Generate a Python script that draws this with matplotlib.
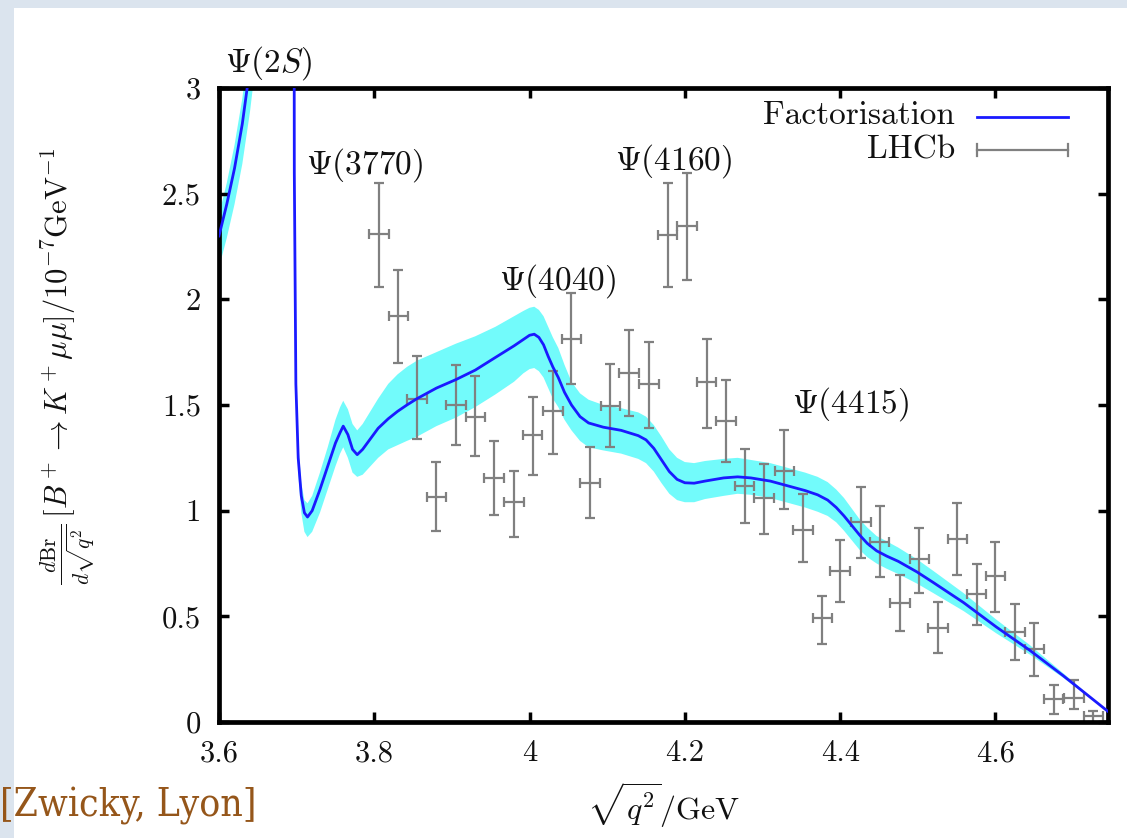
import matplotlib
matplotlib.use("Agg")
import matplotlib.pyplot as plt
from matplotlib.patches import Rectangle
from matplotlib.lines import Line2D

plt.rcParams['mathtext.fontset'] = 'cm'
plt.rcParams['font.family'] = ['cmr10', 'DejaVu Serif']
plt.rcParams['axes.formatter.use_mathtext'] = True

# ---------------- data ----------------
# LHCb data points (sqrt(q^2) bin centres, value, lower/upper error)
lhcb_x = [3.806, 3.831, 3.855, 3.880, 3.905, 3.930, 3.954, 3.980, 4.004, 4.030,
          4.054, 4.078, 4.104, 4.128, 4.154, 4.178, 4.203, 4.228, 4.253, 4.277,
          4.302, 4.328, 4.352, 4.377, 4.400, 4.427, 4.451, 4.477, 4.502, 4.526,
          4.551, 4.576, 4.600, 4.625, 4.650, 4.675, 4.701, 4.726]
lhcb_y = [2.31, 1.92, 1.53, 1.065, 1.50, 1.445, 1.155, 1.04, 1.36, 1.47,
          1.81, 1.13, 1.495, 1.65, 1.60, 2.305, 2.345, 1.61, 1.425, 1.115,
          1.06, 1.19, 0.91, 0.49, 0.715, 0.945, 0.85, 0.565, 0.77, 0.445,
          0.865, 0.605, 0.69, 0.425, 0.345, 0.11, 0.115, 0.03]
lhcb_top = [2.55, 2.14, 1.73, 1.23, 1.69, 1.635, 1.33, 1.19, 1.54, 1.66,
            2.03, 1.30, 1.695, 1.855, 1.80, 2.55, 2.60, 1.81, 1.62, 1.29,
            1.22, 1.38, 1.08, 0.595, 0.86, 1.11, 1.02, 0.695, 0.92, 0.57,
            1.035, 0.75, 0.85, 0.56, 0.47, 0.175, 0.20, 0.05]
lhcb_bot = [2.06, 1.70, 1.34, 0.905, 1.31, 1.26, 0.98, 0.875, 1.17, 1.27,
            1.60, 0.965, 1.30, 1.45, 1.39, 2.06, 2.09, 1.39, 1.23, 0.94,
            0.89, 1.01, 0.755, 0.37, 0.57, 0.775, 0.685, 0.43, 0.61, 0.325,
            0.695, 0.46, 0.52, 0.295, 0.22, 0.04, 0.06, 0.0]
lhcb_xerr = 0.0125

# Factorisation prediction: central curve and uncertainty band
theo_x = [3.600, 3.610, 3.620, 3.630, 3.640, 3.650, 3.665, 3.695, 3.697, 3.699,
          3.702, 3.706, 3.710, 3.714, 3.720, 3.730, 3.740, 3.750, 3.756, 3.760,
          3.766, 3.772, 3.778, 3.785, 3.795, 3.805, 3.818, 3.830, 3.842, 3.855,
          3.880, 3.905, 3.930, 3.956, 3.980, 3.992, 4.000, 4.006, 4.012, 4.018,
          4.024, 4.030, 4.037, 4.045, 4.054, 4.065, 4.076, 4.095, 4.118, 4.140,
          4.150, 4.160, 4.170, 4.180, 4.190, 4.200, 4.212, 4.226, 4.250, 4.268,
          4.285, 4.310, 4.335, 4.355, 4.371, 4.384, 4.395, 4.405, 4.415, 4.425,
          4.435, 4.447, 4.460, 4.475, 4.499, 4.520, 4.559, 4.601, 4.644, 4.687,
          4.745]
theo_c = [2.30, 2.45, 2.62, 2.83, 3.10, 3.45, 4.30, 9.00, 2.60, 1.60,
          1.25, 1.07, 0.99, 0.97, 1.00, 1.10, 1.21, 1.32, 1.37, 1.40,
          1.36, 1.29, 1.265, 1.29, 1.34, 1.39, 1.435, 1.47, 1.50, 1.53,
          1.58, 1.62, 1.665, 1.725, 1.78, 1.81, 1.83, 1.835, 1.82, 1.785,
          1.73, 1.68, 1.63, 1.56, 1.50, 1.445, 1.415, 1.395, 1.38, 1.355,
          1.335, 1.295, 1.24, 1.185, 1.148, 1.132, 1.13, 1.14, 1.155, 1.16,
          1.155, 1.14, 1.115, 1.095, 1.075, 1.05, 1.015, 0.975, 0.93, 0.885,
          0.845, 0.81, 0.785, 0.76, 0.71, 0.66, 0.565, 0.45, 0.34, 0.22,
          0.05]
theo_lo = [2.15, 2.29, 2.45, 2.64, 2.89, 3.20, 4.00, 9.00, 2.50, 1.52,
           1.18, 0.99, 0.90, 0.875, 0.90, 0.99, 1.10, 1.21, 1.27, 1.30,
           1.25, 1.18, 1.16, 1.17, 1.21, 1.25, 1.29, 1.31, 1.33, 1.35,
           1.40, 1.44, 1.49, 1.55, 1.61, 1.65, 1.67, 1.675, 1.66, 1.63,
           1.58, 1.53, 1.49, 1.43, 1.38, 1.33, 1.30, 1.285, 1.27, 1.245,
           1.225, 1.185, 1.13, 1.08, 1.05, 1.04, 1.04, 1.055, 1.07, 1.08,
           1.075, 1.06, 1.035, 1.015, 0.995, 0.975, 0.945, 0.905, 0.86, 0.815,
           0.78, 0.75, 0.725, 0.70, 0.655, 0.61, 0.525, 0.42, 0.32, 0.21,
           0.05]
theo_hi = [2.40, 2.55, 2.73, 2.95, 3.24, 3.60, 4.50, 9.00, 2.70, 1.68,
           1.32, 1.13, 1.05, 1.035, 1.07, 1.18, 1.30, 1.43, 1.49, 1.52,
           1.48, 1.41, 1.38, 1.41, 1.47, 1.53, 1.60, 1.645, 1.68, 1.71,
           1.75, 1.79, 1.825, 1.87, 1.92, 1.945, 1.96, 1.965, 1.95, 1.92,
           1.87, 1.82, 1.77, 1.69, 1.61, 1.555, 1.525, 1.50, 1.485, 1.465,
           1.445, 1.405, 1.35, 1.29, 1.25, 1.23, 1.225, 1.235, 1.245, 1.25,
           1.24, 1.225, 1.20, 1.18, 1.16, 1.135, 1.10, 1.06, 1.01, 0.96,
           0.92, 0.88, 0.855, 0.825, 0.77, 0.715, 0.61, 0.485, 0.365, 0.232,
           0.05]

# resonance labels
res_labels = [r'$\Psi(2S)$', r'$\Psi(3770)$', r'$\Psi(4040)$', r'$\Psi(4160)$', r'$\Psi(4415)$']
res_x = [3.664, 3.788, 4.036, 4.185, 4.414]
res_y = [3.12, 2.636, 2.087, 2.655, 1.505]

xticks = [3.6, 3.8, 4.0, 4.2, 4.4, 4.6]
xtick_labels = ['3.6', '3.8', '4', '4.2', '4.4', '4.6']
yticks = [0, 0.5, 1, 1.5, 2, 2.5, 3]
ytick_labels = ['0', '0.5', '1', '1.5', '2', '2.5', '3']

# ---------------- figure ----------------
W, H = 1127, 838
fig = plt.figure(figsize=(W / 100, H / 100), dpi=100, facecolor='#dbe4ee')
fig.patches.append(Rectangle((14 / W, 0), 1, (H - 8) / H, transform=fig.transFigure,
                             facecolor='white', edgecolor='none', zorder=-10))

ax = fig.add_axes([219 / W, 1 - 722 / H, (1108 - 219) / W, (722 - 88) / H])
ax.set_zorder(5)
ax.set_facecolor('white')

ax.fill_between(theo_x, theo_lo, theo_hi, color='#72fbfb', lw=0, zorder=1)
ax.plot(theo_x, theo_c, color='#1a1aff', lw=2.0, zorder=3, solid_joinstyle='round')
ax.errorbar(lhcb_x, lhcb_y, yerr=[[c - b for c, b in zip(lhcb_y, lhcb_bot)],
                                   [t - c for t, c in zip(lhcb_top, lhcb_y)]],
            xerr=lhcb_xerr, fmt='none', ecolor='#808080', elinewidth=1.6,
            capsize=3.8, capthick=1.6, zorder=2)

ax.set_xlim(3.6, 4.745)
ax.set_ylim(0, 3)
ax.set_xticks(xticks)
ax.set_xticklabels(xtick_labels)
ax.set_yticks(yticks)
ax.set_yticklabels(ytick_labels)
ax.tick_params(direction='in', length=7, width=2.5, top=True, right=True,
               labelsize=22, pad=13, colors='black', labelcolor='#111111')
for s in ax.spines.values():
    s.set_linewidth(3.4)

for lab, x, y in zip(res_labels, res_x, res_y):
    ax.text(x, y, lab, ha='center', va='center', fontsize=24, color='#111111',
            clip_on=False)

# legend (gnuplot style: text then sample)
ax.text(0.828, 0.957, 'Factorisation', transform=ax.transAxes, ha='right',
        va='center', fontsize=24, color='#111111')
ax.text(0.828, 0.902, 'LHCb', transform=ax.transAxes, ha='right',
        va='center', fontsize=24, color='#111111')
ax.add_line(Line2D([0.853, 0.955], [0.955, 0.955], transform=ax.transAxes,
                   color='#1a1aff', lw=2.0))
ax.add_line(Line2D([0.853, 0.955], [0.902, 0.902], transform=ax.transAxes,
                   color='#808080', lw=1.6))
for xx in (0.853, 0.955):
    ax.add_line(Line2D([xx, xx], [0.893, 0.911], transform=ax.transAxes,
                       color='#808080', lw=1.6))

fig.text(664 / W, 1 - 805 / H, r'$\sqrt{q^2}$/GeV', ha='center', va='center',
         fontsize=23, color='#111111')
fig.text(68 / W, 1 - 366 / H,
         r'$\frac{d\mathrm{Br}}{d\sqrt{q^2}}\,[B^+ \to K^+\mu\mu]/10^{-7}\mathrm{GeV}^{-1}$',
         rotation=90, ha='center', va='center', fontsize=22, color='#111111')

fig.text(0 / W, 1 - 806 / H, '[Zwicky, Lyon]', ha='left', va='center',
         fontsize=28, color='#95561a', family='DejaVu Serif',
         fontstretch='condensed')

fig.savefig('out.png', dpi=100, facecolor=fig.get_facecolor())
